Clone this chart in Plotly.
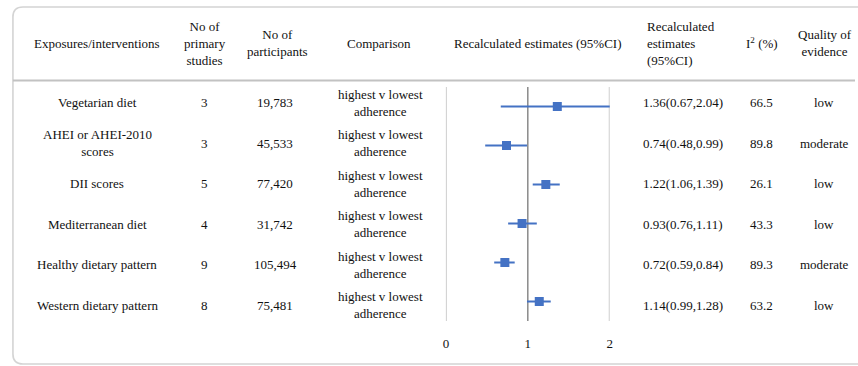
import plotly.graph_objects as go

W, H = 858, 366

# ---- data ----
exposures = ["Vegetarian diet", "AHEI or AHEI-2010<br>scores", "DII scores",
             "Mediterranean diet", "Healthy dietary pattern", "Western dietary pattern"]
n_studies = [3, 3, 5, 4, 9, 8]
n_participants = ["19,783", "45,533", "77,420", "31,742", "105,494", "75,481"]
comparison = ["highest v lowest<br>adherence"] * 6
estimate = [1.36, 0.74, 1.22, 0.93, 0.72, 1.14]
ci_low = [0.67, 0.48, 1.06, 0.76, 0.59, 0.99]
ci_high = [2.04, 0.99, 1.39, 1.11, 0.84, 1.28]
i2 = [66.5, 89.8, 26.1, 43.3, 89.3, 63.2]
quality = ["low", "moderate", "low", "low", "moderate", "low"]
x_ticks = [0, 1, 2]
null_value = 1

headers = {
    "exp": "Exposures/interventions",
    "studies": "No of<br>primary<br>studies",
    "part": "No of<br>participants",
    "comp": "Comparison",
    "forest": "Recalculated estimates (95%CI)",
    "est": "Recalculated<br>estimates<br>(95%CI)",
    "i2": "I<sup>2</sup> (%)",
    "qual": "Quality of<br>evidence",
}

FONT = "Liberation Serif"
TXT = "#111111"
BLUE = "#4472C4"


def px(x):
    return x / W


def py(y):
    return 1 - y / H


fig = go.Figure()

rows = list(range(len(exposures)))

# forest plot markers with confidence intervals
fig.add_trace(go.Scatter(
    x=estimate, y=rows, mode="markers",
    marker=dict(symbol="square", size=9, color=BLUE),
    error_x=dict(type="data", symmetric=False,
                 array=[h - e for h, e in zip(ci_high, estimate)],
                 arrayminus=[e - l for e, l in zip(estimate, ci_low)],
                 color=BLUE, thickness=2.2, width=0),
    hoverinfo="skip", showlegend=False,
))

ann = []


def text(x, y, s, size=13, xanchor="center", align="center"):
    ann.append(dict(x=px(x), y=py(y), xref="paper", yref="paper", text=s,
                    showarrow=False, xanchor=xanchor, yanchor="middle", align=align,
                    font=dict(family=FONT, size=size, color=TXT)))


# header
hy = 43
text(95, hy, headers["exp"])
text(203, hy, headers["studies"])
text(276, hy, headers["part"])
text(379, hy, headers["comp"])
text(539, hy, headers["forest"])
text(647, hy, headers["est"], xanchor="left", align="left")
text(764, hy, headers["i2"])
text(828, hy, headers["qual"])

# body rows
row0, step = 103, 40.4
for i in rows:
    y = row0 + step * i
    text(95, y, exposures[i])
    text(203, y, str(n_studies[i]))
    text(274, y, n_participants[i])
    text(380, y, comparison[i], size=13)
    text(642, y, f"{estimate[i]:.2f}({ci_low[i]:.2f},{ci_high[i]:.2f})", xanchor="left")
    text(764, y, f"{i2[i]:.1f}")
    text(827, y, quality[i])

shapes = []
# outer rounded frame (open on the right)
r = 10
L, T, B, R = 10, 7, 364, 870
path = (f"M {px(R)},{py(T)} L {px(L + r)},{py(T)} "
        f"Q {px(L)},{py(T)} {px(L)},{py(T + r)} "
        f"L {px(L)},{py(B - r)} "
        f"Q {px(L)},{py(B)} {px(L + r)},{py(B)} "
        f"L {px(R)},{py(B)}")
shapes.append(dict(type="path", path=path, xref="paper", yref="paper",
                   line=dict(color="#d4d4d4", width=1.6)))
# header separator
shapes.append(dict(type="line", xref="paper", yref="paper",
                   x0=px(L), x1=1, y0=py(80.5), y1=py(80.5),
                   line=dict(color="#c2c2c2", width=2)))
# vertical guide lines at each tick; the null value is drawn darker
for t in x_ticks:
    shapes.append(dict(type="line", xref="x", yref="paper",
                       x0=t, x1=t, y0=py(321), y1=py(87),
                       line=dict(color="#8a8a8a" if t == null_value else "#cfcfcf",
                                 width=1.5 if t == null_value else 2),
                       layer="below"))

fig.update_layout(
    width=W, height=H,
    margin=dict(l=0, r=0, t=0, b=0),
    paper_bgcolor="white", plot_bgcolor="white",
    annotations=ann, shapes=shapes,
    xaxis=dict(domain=[px(446), px(611)], range=[0, 2], tickvals=x_ticks,
               showgrid=False, zeroline=False, showline=False,
               ticks="outside", ticklen=10, tickcolor="rgba(0,0,0,0)",
               tickfont=dict(family=FONT, size=13, color=TXT), fixedrange=True),
    yaxis=dict(domain=[py(321), py(87)], range=[len(rows) - 0.5, -0.5],
               visible=False, fixedrange=True),
)

fig.write_html("out.html")
